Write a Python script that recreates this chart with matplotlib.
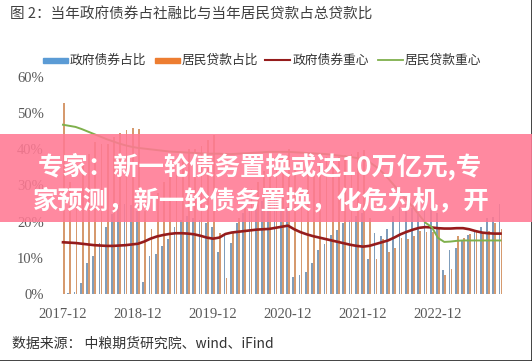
import numpy as np
import matplotlib
matplotlib.use("Agg")
import matplotlib.pyplot as plt
from matplotlib.patches import Rectangle
from matplotlib.lines import Line2D

# ---------------- data ----------------
# months: index 0 = 2017-12 ... index 70 = 2023-10
tick_pos = [0, 12, 24, 36, 48, 60]
tick_labels = ["2017-12", "2018-12", "2019-12", "2020-12", "2021-12", "2022-12"]

gov_share = [np.nan,
             0.3, 0.5, 3.1, 8.7, 10.5, 14.0, 18.5, 22.0, 24.5, 25.0, 24.5, 23.0,
             3.4, 10.5, 11.0, 13.3, 15.2, 18.5, 20.5, 21.5, 21.0, 20.5, 19.5, 18.5,
             11.6, 16.5, 14.0, 19.6, 22.5, 22.9, 23.6, 25.6, 25.8, 26.2, 25.7, 24.0,
             4.7, 5.3, 6.2, 8.6, 12.2, 13.9, 16.4, 17.8, 19.5, 20.5, 21.5, 22.4,
             9.7, 17.0, 16.0, 18.0, 21.6, 24.0, 25.0, 23.8, 22.7, 23.4, 23.9, 22.3,
             6.7, 12.3, 12.6, 14.6, 16.4, 17.1, 18.6, 21.0, 21.4, 25.0]

house_share = [52.7,
               31.0, 29.0, 35.6, 38.6, 41.9, 41.5, 41.5, 43.5, 44.4, 45.4, 46.0, 45.5,
               23.0, 18.0, 28.0, 31.0, 35.0, 37.0, 38.0, 40.0, 40.0, 41.0, 42.5, 44.0,
               17.0, 4.5, 17.0, 21.0, 25.0, 29.0, 31.0, 34.0, 35.5, 36.4, 37.7, 40.0,
               35.0, 27.0, 33.5, 34.0, 36.6, 37.9, 37.0, 37.8, 38.5, 38.6, 39.4, 39.7,
               21.0, 9.8, 15.2, 11.7, 12.6, 15.6, 15.1, 16.0, 17.4, 17.1, 17.1, 18.0,
               5.2, 6.9, 16.0, 15.5, 16.5, 17.3, 16.8, 17.5, 19.7, 18.0]

gov_center = [14.3,
              14.2, 14.1, 13.9, 13.7, 13.5, 13.4, 13.3, 13.3, 13.4, 13.5, 13.7, 13.9,
              14.5, 15.3, 15.9, 16.3, 16.6, 16.8, 16.8, 16.7, 16.5, 16.1, 15.6, 15.3,
              15.6, 16.6, 17.0, 17.2, 17.4, 17.6, 17.8, 17.9, 18.0, 18.3, 18.6, 18.9,
              17.9, 17.1, 16.5, 16.0, 15.6, 15.2, 14.8, 14.4, 14.0, 13.6, 13.3, 13.1,
              13.3, 13.8, 14.3, 14.8, 15.6, 16.5, 17.2, 17.8, 18.3, 18.5, 18.4, 18.2,
              18.1, 18.1, 18.2, 18.2, 17.9, 17.4, 17.0, 16.8, 16.7, 16.7]

house_center = [46.8,
                46.5, 46.2, 45.6, 44.9, 44.2, 43.5, 42.8, 42.2, 41.6, 41.1, 40.7, 40.4,
                40.2, 40.0, 39.8, 39.6, 39.4, 39.3, 39.2, 39.1, 39.0, 38.9, 38.8, 38.8,
                38.8, 38.7, 38.7, 38.8, 38.9, 39.0, 39.1, 39.2, 39.3, 39.3, 39.3, 39.3,
                39.2, 39.1, 39.0, 38.9, 38.8, 38.7, 38.5, 38.3, 38.1, 37.9, 37.6, 37.2,
                36.5, 35.3, 33.8, 32.0, 30.0, 28.0, 26.0, 24.0, 21.8, 19.7, 18.5, 15.5,
                14.4, 14.5, 14.7, 14.8, 14.8, 14.8, 14.8, 14.8, 14.8, 14.8]

series_names = ["政府债券占比", "居民贷款占比", "政府债券重心", "居民贷款重心"]
title = "图 2：当年政府债券占社融比与当年居民贷款占总贷款比"
source = "数据来源： 中粮期货研究院、wind、iFind"
banner_lines = ["专家：新一轮债务置换或达10万亿元,专", "家预测，新一轮债务置换，化危为机，开"]

# ---------------- style ----------------
W, H = 532, 361
CJK = ["Noto Sans CJK SC", "DejaVu Sans"]
SERIF = ["Liberation Serif", "DejaVu Serif"]
c_blue_legend = "#5B9BD5"
c_orange_legend = "#ED7D31"
c_blue = "#7F9DBB"
c_orange = "#D69A6E"
c_red = "#951C1C"
c_green = "#7FB04C"

fig = plt.figure(figsize=(W / 100, H / 100), dpi=100)
fig.patch.set_facecolor("white")

def fx(px):
    return px / W

def fy(py):
    return 1 - py / H

ax = fig.add_axes([fx(55), fy(294), 455 / W, 217 / H])
x = np.arange(len(house_share))
ax.bar(x - 0.16, gov_share, width=0.28, color=c_blue, linewidth=0, zorder=2)
ax.bar(x + 0.14, house_share, width=0.28, color=c_orange, linewidth=0, zorder=2)
ax.plot(x, gov_center, color=c_red, lw=1.9, zorder=3)
ax.plot(x, house_center, color=c_green, lw=1.4, zorder=3)

ax.set_xlim(-1.28, -1.28 + 455 / 6.25)
ax.set_ylim(0, 60)
ax.set_yticks(range(0, 61, 10))
ax.set_yticklabels([f"{v}%" for v in range(0, 61, 10)], fontfamily=SERIF,
                   fontsize=10.5, color="#595959")
ax.set_xticks(tick_pos)
ax.set_xticklabels(tick_labels, fontfamily=SERIF, fontsize=10.5, color="#595959")
ax.tick_params(axis="y", length=0, pad=8)
ax.tick_params(axis="x", length=0, pad=10)
for s in ax.spines.values():
    s.set_visible(False)
ax.set_facecolor("none")

# title
fig.text(fx(10), fy(14), title, fontfamily=CJK, fontsize=10.5, color="#404040",
         va="center", ha="left")

# legend (manual)
ly = fy(60)
fig.add_artist(Rectangle((fx(43), fy(62.5)), 25 / W, 5 / H, color=c_blue_legend, transform=fig.transFigure))
fig.add_artist(Rectangle((fx(155), fy(62.5)), 25 / W, 5 / H, color=c_orange_legend, transform=fig.transFigure))
fig.add_artist(Line2D([fx(265), fx(290)], [ly, ly], color=c_red, lw=1.5, transform=fig.transFigure))
fig.add_artist(Line2D([fx(378), fx(403)], [ly, ly], color=c_green, lw=1.3, transform=fig.transFigure))
for xp, name in zip([70, 182, 293, 405], series_names):
    fig.text(fx(xp), ly, name, fontfamily=CJK, fontsize=9.2, color="#333333",
             va="center", ha="left")

# source
fig.text(fx(12), fy(344), source, fontfamily=CJK, fontsize=10, color="#333333",
         va="center", ha="left")

# banner overlay
fig.add_artist(Rectangle((0, fy(222)), 1, 88 / H, facecolor=(1.0, 121 / 255, 147 / 255),
                         alpha=0.88, edgecolor="none", transform=fig.transFigure, zorder=5))
fig.text(fx(260), fy(166), banner_lines[0], fontfamily=CJK, fontsize=18.3,
         fontweight="bold", color="white", ha="center", va="center", zorder=6)
fig.text(fx(261.5), fy(201), banner_lines[1], fontfamily=CJK, fontsize=18.3,
         fontweight="bold", color="white", ha="center", va="center", zorder=6)

# frame edges at right and bottom
fig.add_artist(Line2D([fx(531.5), fx(531.5)], [0, 1], color="#222222", lw=1.2, transform=fig.transFigure))
fig.add_artist(Line2D([0, 1], [fy(360.5), fy(360.5)], color="#222222", lw=1.2, transform=fig.transFigure))

fig.savefig("out.png", dpi=100)
